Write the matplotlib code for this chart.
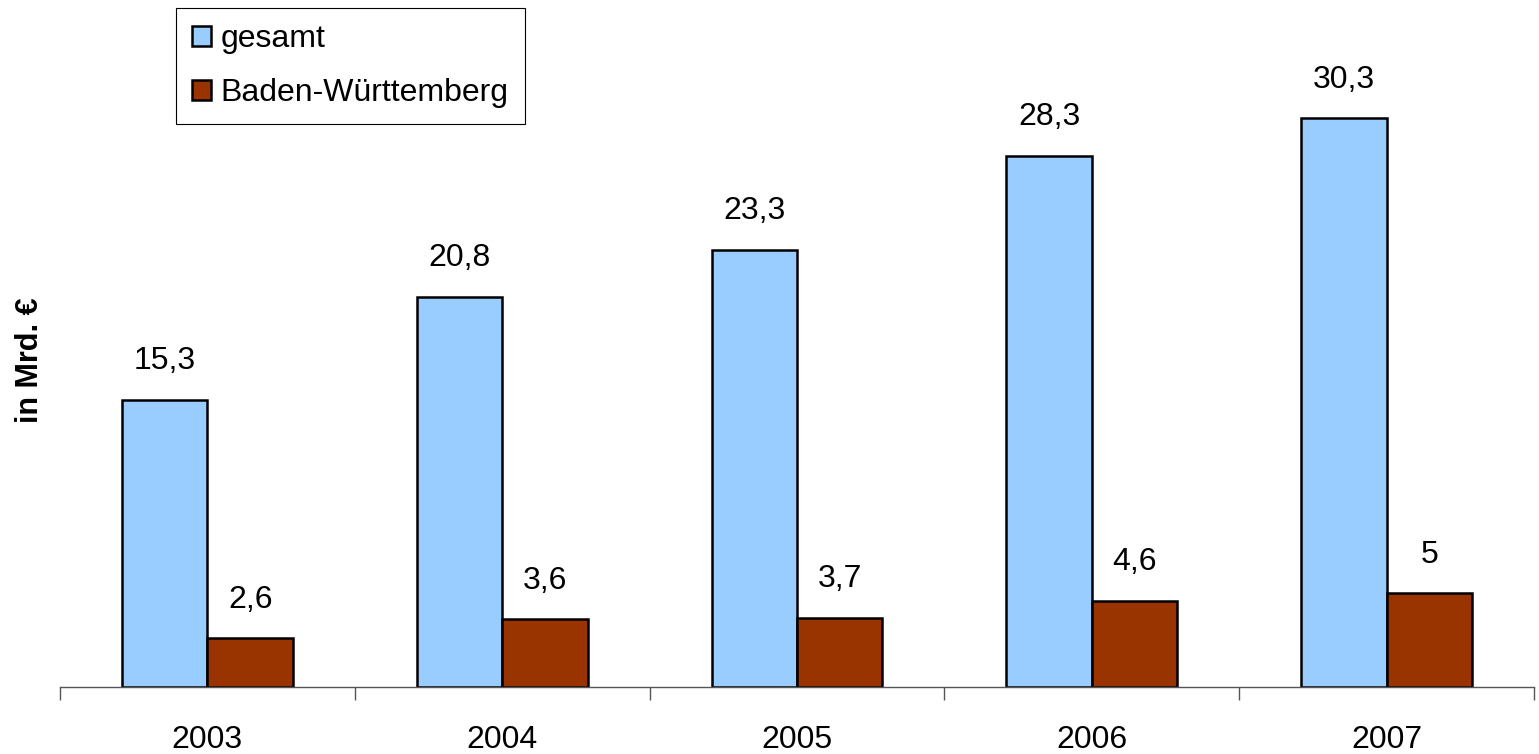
import numpy as np
import matplotlib.pyplot as plt

# --- DATA ---
years = ['2003', '2004', '2005', '2006', '2007']
gesamt = [15.3, 20.8, 23.3, 28.3, 30.3]
bw = [2.6, 3.6, 3.7, 4.6, 5.0]
gesamt_labels = ['15,3', '20,8', '23,3', '28,3', '30,3']
bw_labels = ['2,6', '3,6', '3,7', '4,6', '5']

plt.rcParams['font.family'] = ['Liberation Sans', 'DejaVu Sans']

fig = plt.figure(figsize=(15.39, 7.54), dpi=100)
ax = fig.add_axes([60 / 1539, 1 - 687 / 754, 1474 / 1539, 687 / 754])

x = np.arange(len(years))
w = 0.29
b1 = ax.bar(x - w / 2, gesamt, w, color='#99CCFF', edgecolor='black', linewidth=1.8, label='gesamt')
b2 = ax.bar(x + w / 2, bw, w, color='#993300', edgecolor='black', linewidth=1.8, label='Baden-Württemberg')

for bars, labs in ((b1, gesamt_labels), (b2, bw_labels)):
    for rect, lab in zip(bars, labs):
        ax.annotate(lab, (rect.get_x() + rect.get_width() / 2, rect.get_height()),
                    xytext=(0, 22), textcoords='offset points',
                    ha='center', va='baseline', fontsize=23)

ax.set_xlim(-0.5, len(years) - 0.5)
ax.set_ylim(0, 36.6)

# axes styling
for s in ('top', 'right', 'left'):
    ax.spines[s].set_visible(False)
ax.spines['bottom'].set_color('#555555')
ax.spines['bottom'].set_linewidth(1.0)
ax.set_yticks([])
ax.set_xticks(x)
ax.set_xticklabels(years, fontsize=23)
ax.tick_params(axis='x', which='major', length=0, pad=27)
ax.set_xticks(np.arange(-0.5, len(years)), minor=True)
ax.tick_params(axis='x', which='minor', length=9, width=1.0, color='#555555')

fig.text(30 / 1539, 1 - 360 / 754, 'in Mrd. €', rotation=90, fontsize=22,
         fontweight='bold', ha='center', va='center')

leg = fig.legend(loc='upper left', bbox_to_anchor=(176 / 1539, 1 - 8 / 754),
                 fontsize=23, fancybox=False, edgecolor='black', framealpha=1,
                 handlelength=0.6, handleheight=0.6, handletextpad=0.3,
                 borderpad=0.5, labelspacing=0.75, borderaxespad=0)
leg.get_frame().set_linewidth(0.8)

fig.savefig('out.png', dpi=100)
